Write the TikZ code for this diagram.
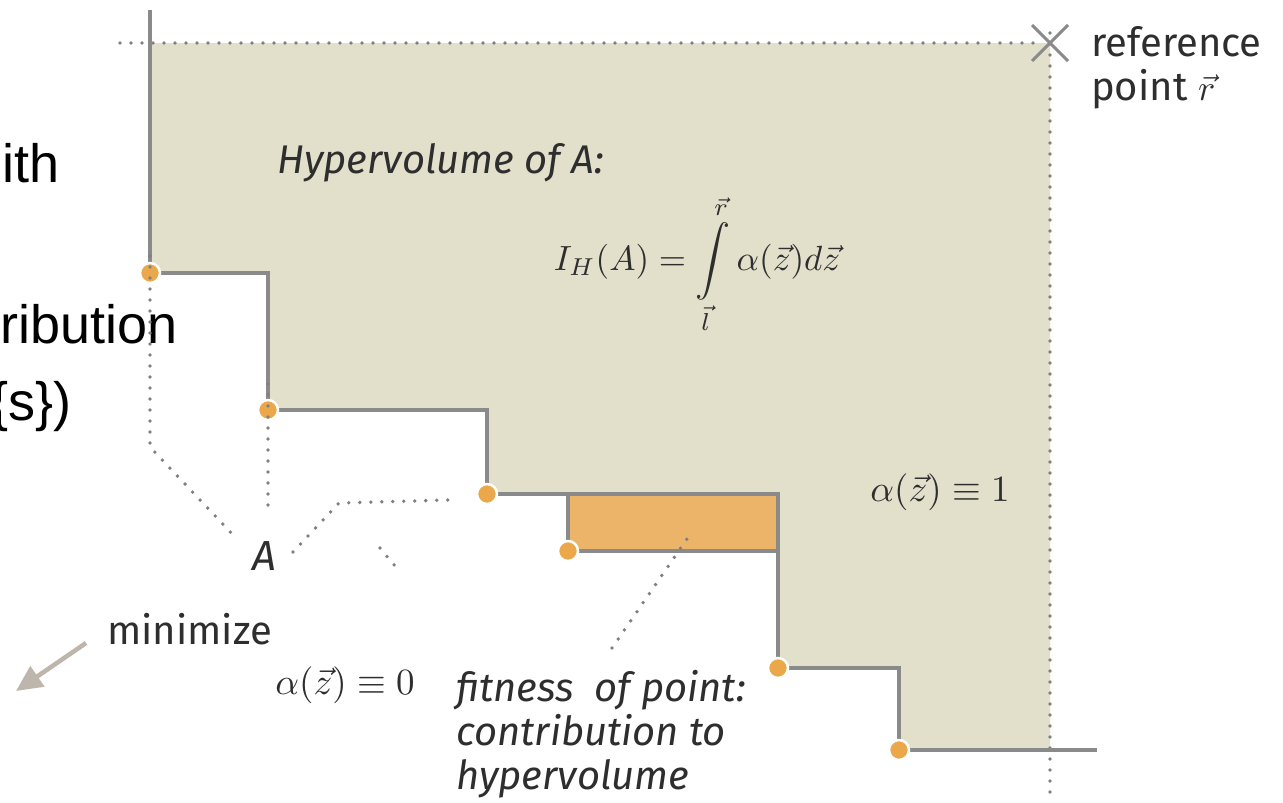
\documentclass[tikz,border=0pt]{standalone}
\usepackage{fontspec}
\usepackage{graphicx}
\setmainfont{Fira Sans}
\newfontfamily\helv{Liberation Sans}
\usetikzlibrary{arrows.meta}
\definecolor{beige}{HTML}{E2DFCB}
\definecolor{stair}{HTML}{8A8A8A}
\definecolor{ptorange}{HTML}{EBA84B}
\definecolor{rectorange}{HTML}{EBB469}
\definecolor{dotgray}{HTML}{808080}
\definecolor{arrowgray}{HTML}{BEB6AC}
\definecolor{txt}{HTML}{2E2E2E}
\newcommand{\bigmath}[2]{\scalebox{#1}{\fontsize{10}{12}\selectfont$#2$}}
\tikzset{
  stairline/.style={stair, line width=3.2pt, line join=miter},
  dotline/.style={dotgray, line width=3.8pt, line cap=round, dash pattern=on 0pt off 11pt},
  ptdot/.style={circle, fill=ptorange, draw=white, line width=2.5pt, minimum size=20pt, inner sep=0pt},
  bigtxt/.style={font=\helv\fontsize{54}{62}\selectfont, inner sep=0pt, text=black},
  lbl/.style={font=\fontsize{40}{44}\selectfont, inner sep=0pt, text=txt},
  itlbl/.style={font=\itshape\fontsize{40}{44}\selectfont, inner sep=0pt, text=txt},
  mathlbl/.style={inner sep=0pt, text=txt},
}
\begin{document}
\begin{tikzpicture}[x=1pt,y=-1pt]
\useasboundingbox (0,0) rectangle (1283,803);
\clip (0,0) rectangle (1283,803);
\fill[white] (0,0) rectangle (1283,803);
% hypervolume region
\fill[beige] (150,43) -- (1050,43) -- (1050,750) -- (899,750) -- (899,668) -- (778,668)
  -- (778,551) -- (568,551) -- (568,494) -- (487,494) -- (487,410) -- (268,410)
  -- (268,273) -- (150,273) -- cycle;
% contribution rectangle
\node[draw=stair, line width=3.2pt, fill=rectorange, minimum width=210pt, minimum height=57pt, inner sep=0pt] (contrib) at (673,522.5) {};
% dotted frame
\coordinate (ref) at (1050,43);
\coordinate (dl) at (120,43);
\coordinate (db) at (1050,803);
\draw[dotline] (dl) -- ([xshift=-10]ref);
\draw[dotline] ([yshift=10]ref) -- (db);
% staircase
\coordinate (top) at (150,10);
\coordinate (end) at (1097,750);
\draw[stairline] (top) -- (150,273) -- (268,273) -- (268,410) -- (487,410) -- (487,494)
  -- (568,494) -- (568,551) -- (778,551) -- (778,668) -- (899,668) -- (899,750) -- (end);
% points
\node[ptdot] (p1) at (150,273) {};
\node[ptdot] (p2) at (268,410) {};
\node[ptdot] (p3) at (487,494) {};
\node[ptdot] (p4) at (568,551) {};
\node[ptdot] (p5) at (778,668) {};
\node[ptdot] (p6) at (899,750) {};
% reference cross
\draw[stair, line width=3pt] ([shift={(-18,-18)}]ref) -- ([shift={(18,18)}]ref);
\draw[stair, line width=3pt] ([shift={(-18,18)}]ref) -- ([shift={(18,-18)}]ref);
% labels
\node[itlbl, anchor=west] (hvtitle) at (277,163) {Hypervolume of A:};
\node[mathlbl] (formula) at (697,264) {\bigmath{3.5}{\displaystyle I_H(A)=\int\limits_{\vec{l}}^{\vec{r}}\alpha(\vec{z})d\vec{z}}};
\node[mathlbl] (a1) at (940,492) {\bigmath{3.7}{\alpha(\vec{z})\equiv 1}};
\node[mathlbl] (a0) at (345,685) {\bigmath{3.7}{\alpha(\vec{z})\equiv 0}};
\node[itlbl, anchor=center, font=\itshape\fontsize{42}{44}\selectfont] (A) at (264,556) {A};
\node[lbl, anchor=west] (minlbl) at (107,629) {minimize};
\node[lbl, anchor=north west, align=left] (reflbl) at (1091,26) {reference\\point \bigmath{3.6}{\vec{r}}};
\node[itlbl, anchor=north west, align=left] (fit) at (456,670) {fitness\ \ of point:\\contribution to\\hypervolume};
% cropped left text
\node[bigtxt, anchor=base east] (t1) at (60,182) {ith};
\node[bigtxt, anchor=base east] (t2) at (178,343) {ribution};
\node[bigtxt, anchor=base east] (t3) at (72,420) {\{s\})};
% minimize arrow
\coordinate (m1) at (86,643);
\coordinate (m2) at (16,691);
\draw[arrowgray, line width=4.5pt, -{Triangle[length=26pt,width=24pt]}] (m1) -- (m2);
% dotted pointers to A
\coordinate (q1) at (150,447);
\coordinate (q1e) at (236,538);
\draw[dotline] ([yshift=17]p1.center) -- (q1) -- (q1e);
\coordinate (q2e) at (268,509);
\draw[dotline] ([yshift=26]p2.center) -- (q2e);
\coordinate (q3s) at (293,552);
\coordinate (q3m) at (339,503);
\coordinate (q3e) at (448,500);
\draw[dotline] (q3s) -- (q3m) -- (q3e);
\coordinate (q4s) at (380,548);
\coordinate (q4e) at (395,566);
\draw[dotline] (q4s) -- (q4e);
% fitness pointer
\coordinate (f1) at (612,648);
\coordinate (f2) at (691,533);
\draw[dotline] (f1) -- (f2);
\end{tikzpicture}
\end{document}
